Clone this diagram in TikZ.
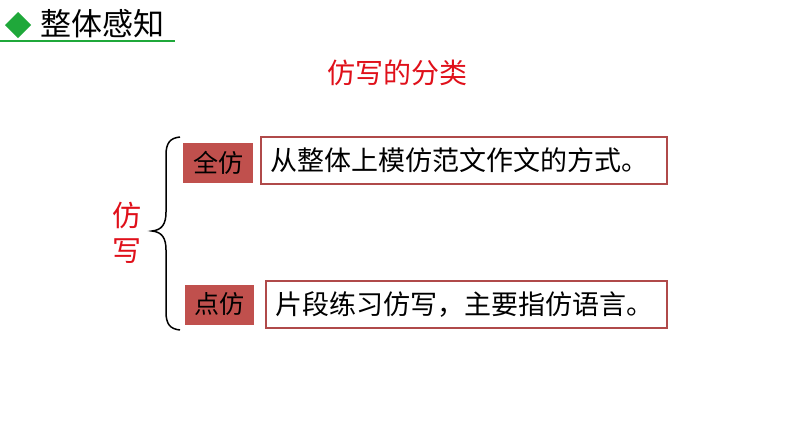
\documentclass[tikz,border=0pt]{standalone}
\usepackage{fontspec}
\newfontfamily\cjk{Noto Sans CJK SC}
\usepackage{tikz}
\usetikzlibrary{arrows.meta,shapes}
\definecolor{titlegreen}{HTML}{1FA83A}
\definecolor{tagred}{HTML}{C0504D}
\definecolor{frame}{HTML}{B04A4A}
\definecolor{headred}{HTML}{E0101A}

\begin{document}
\begin{tikzpicture}[x=1pt,y=-1pt]
      \useasboundingbox[fill=white] (0,0) rectangle (794,447);
      % heading
      \fill[titlegreen] (5,25) -- (18,12) -- (31,25) -- (18,38) -- cycle;
      \draw[titlegreen,line width=2pt] (0,41) -- (175,41);
      \node[anchor=west,inner sep=0pt,font=\cjk\fontsize{31}{31}\selectfont] (head) at (40,24) {整体感知};
      \node[inner sep=0pt,text=headred,font=\cjk\fontsize{28}{28}\selectfont] (kind) at (397,73) {仿写的分类};
      \node[inner sep=0pt,text=headred,align=center,font=\cjk\fontsize{29}{35}\selectfont] (main) at (127,233)
        {仿\\写};
      \begin{scope}[every node/.style={fill=tagred,minimum height=40pt,inner sep=0pt,font=\cjk\fontsize{25}{25}\selectfont}]
        \node[minimum width=70pt] (A) at (218,163)   {全仿};
        \node[minimum width=69pt] (B) at (219.5,304.5) {点仿};
      \end{scope}
      \begin{scope}[every node/.style={draw=frame,line width=1.5pt,fill=white,minimum height=47pt,inner xsep=9pt,align=left,font=\cjk\fontsize{27}{27}\selectfont}]
        \node[text width=388pt] (C) at (464,160.5)   {从整体上模仿范文作文的方式。};
        \node[text width=383pt] (D) at (466.5,304.5) {片段练习仿写，主要指仿语言。};
      \end{scope}
      % brace
      \coordinate (top) at (180,137);
      \coordinate (tip) at (152,231);
      \coordinate (bot) at (180,330);
      \draw[black,line width=1.5pt] (top) .. controls (170,138) and (166,143) .. (166,155)
        -- (166,212) .. controls (166,224) and (162,230) .. (tip)
        .. controls (162,232) and (166,238) .. (166,250)
        -- (166,312) .. controls (166,324) and (170,329) .. (bot);
\end{tikzpicture}
\end{document}
